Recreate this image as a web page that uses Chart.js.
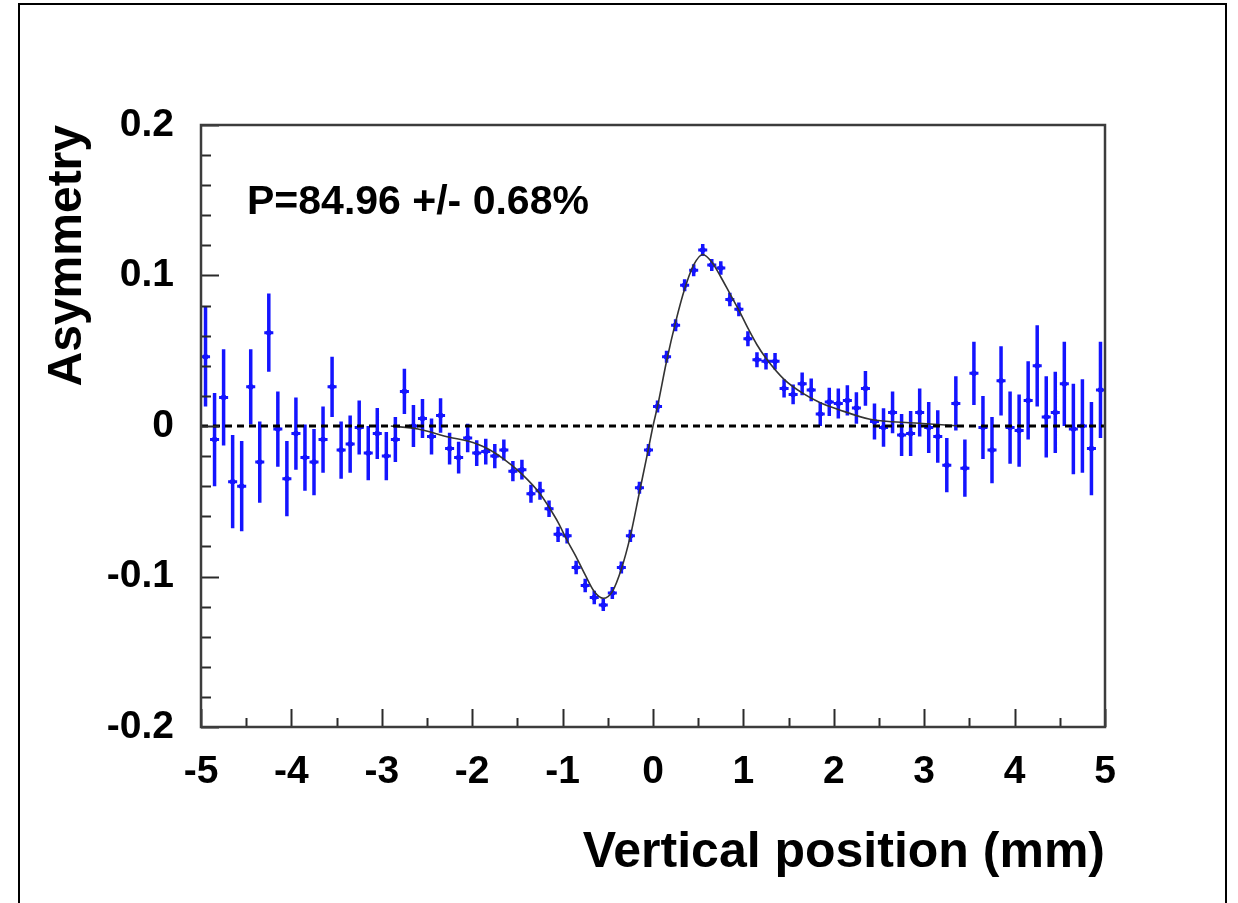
<!DOCTYPE html>
<html><head><meta charset="utf-8">
<script src="https://cdn.jsdelivr.net/npm/chart.js@4.4.1/dist/chart.umd.min.js"></script>
<style>html,body{margin:0;padding:0;background:#fff;}canvas{display:block;}</style>
</head><body>
<canvas id="c" width="1238" height="903"></canvas>
<script>
const binCenters = [
 -4.95,-4.85,-4.75,-4.65,-4.55,-4.45,-4.35,-4.25,-4.15,-4.05,
 -3.95,-3.85,-3.75,-3.65,-3.55,-3.45,-3.35,-3.25,-3.15,-3.05,
 -2.95,-2.85,-2.75,-2.65,-2.55,-2.45,-2.35,-2.25,-2.15,-2.05,
 -1.95,-1.85,-1.75,-1.65,-1.55,-1.45,-1.35,-1.25,-1.15,-1.05,
 -0.95,-0.85,-0.75,-0.65,-0.55,-0.45,-0.35,-0.25,-0.15,-0.05,
 0.05,0.15,0.25,0.35,0.45,0.55,0.65,0.75,0.85,0.95,
 1.05,1.15,1.25,1.35,1.45,1.55,1.65,1.75,1.85,1.95,
 2.05,2.15,2.25,2.35,2.45,2.55,2.65,2.75,2.85,2.95,
 3.05,3.15,3.25,3.35,3.45,3.55,3.65,3.75,3.85,3.95,
 4.05,4.15,4.25,4.35,4.45,4.55,4.65,4.75,4.85,4.95];
const asymmetry = [
 0.046,-0.009,0.019,-0.037,-0.040,0.026,-0.024,0.062,-0.002,-0.035,
 -0.005,-0.021,-0.024,-0.009,0.026,-0.016,-0.012,-0.001,-0.018,-0.005,
 -0.020,-0.009,0.023,0.000,0.005,-0.007,0.007,-0.015,-0.021,-0.008,
 -0.018,-0.017,-0.020,-0.016,-0.030,-0.029,-0.045,-0.043,-0.055,-0.072,
 -0.073,-0.094,-0.106,-0.114,-0.119,-0.111,-0.094,-0.073,-0.041,-0.016,
 0.013,0.046,0.067,0.0935,0.1035,0.117,0.107,0.105,0.084,0.0775,
 0.058,0.044,0.043,0.043,0.025,0.021,0.028,0.024,0.008,0.016,
 0.015,0.017,0.012,0.025,0.003,-0.001,0.009,-0.006,-0.005,0.009,
 -0.001,-0.007,-0.026,0.015,-0.028,0.035,-0.001,-0.016,0.030,-0.001,
 -0.003,0.017,0.040,0.006,0.009,0.028,-0.002,0.000,-0.015,0.024];
const asymErr = [
 0.033,0.031,0.032,0.031,0.030,0.025,0.027,0.026,0.025,0.025,
 0.024,0.022,0.022,0.022,0.020,0.019,0.019,0.018,0.018,0.017,
 0.016,0.015,0.015,0.014,0.013,0.012,0.0115,0.0105,0.0105,0.0095,
 0.0085,0.0085,0.008,0.007,0.0067,0.0065,0.006,0.006,0.0055,0.005,
 0.005,0.0045,0.0045,0.0045,0.004,0.004,0.004,0.004,0.004,0.004,
 0.004,0.004,0.004,0.004,0.004,0.004,0.004,0.0045,0.0045,0.0045,
 0.005,0.005,0.0055,0.0055,0.006,0.0065,0.0075,0.0075,0.008,0.0094,
 0.010,0.010,0.0105,0.0116,0.012,0.0128,0.0139,0.014,0.015,0.016,
 0.017,0.0174,0.018,0.018,0.019,0.021,0.021,0.022,0.023,0.024,
 0.024,0.026,0.027,0.027,0.027,0.028,0.030,0.031,0.031,0.032];
const binHalfWidth = 0.05;
const fitX = [-2.9,-2.6,-2.25,-2.05,-1.85,-1.65,-1.45,-1.25,-1.15,-1.05,-0.95,-0.85,-0.75,-0.65,-0.55,-0.45,-0.35,-0.25,-0.15,-0.05,0.0,
  0.05,0.15,0.25,0.35,0.45,0.55,0.65,0.75,0.85,0.95,1.05,1.15,1.25,1.45,1.65,1.85,2.05,2.4,2.9,3.4];
const fitY = [0.0,-0.002,-0.0075,-0.010,-0.0145,-0.022,-0.032,-0.045,-0.054,-0.064,-0.076,-0.087,-0.099,-0.110,-0.1145,-0.110,-0.095,-0.073,-0.044,-0.015,0.0,
  0.013,0.043,0.069,0.091,0.107,0.114,0.109,0.099,0.088,0.077,0.065,0.054,0.045,0.031,0.022,0.0155,0.011,0.0045,0.002,0.0];
const xMajorTicks = [-5,-4,-3,-2,-1,0,1,2,3,4,5];
const yMajorTicks = [-0.2,-0.1,0,0.1,0.2];
const xTitle = 'Vertical position (mm)';
const yTitle = 'Asymmetry';
const polText = 'P=84.96 +/- 0.68%';

const FONT = "'Liberation Sans', Arial, Helvetica, sans-serif";
const BLUE = '#1414ff';

const vBars = [], hBars = [], centers = [];
binCenters.forEach((x, i) => {
  const y = asymmetry[i], e = asymErr[i];
  vBars.push({x, y: y - e}, {x, y: y + e}, {x, y: null});
  hBars.push({x: x - binHalfWidth, y}, {x: x + binHalfWidth, y}, {x: x + binHalfWidth, y: null});
  centers.push({x, y});
});
const fitData = fitX.map((x, i) => ({x, y: fitY[i]}));
const zeroLine = [{x: xMajorTicks[0], y: 0}, {x: xMajorTicks[xMajorTicks.length - 1], y: 0}];

const near = (v, arr) => arr.find(t => Math.abs(v - t) < 1e-6);

const framePlugin = {
  id: 'frame',
  afterDraw(chart) {
    const {ctx, chartArea: a, scales: {x, y}} = chart;
    ctx.save();
    ctx.strokeStyle = '#2a2a2a';
    ctx.lineWidth = 2;
    x.ticks.forEach(t => {
      const px = Math.round(x.getPixelForValue(t.value)) + 0.5;
      const len = near(t.value, xMajorTicks) !== undefined ? 18 : 9;
      ctx.beginPath(); ctx.moveTo(px, a.bottom); ctx.lineTo(px, a.bottom - len); ctx.stroke();
    });
    y.ticks.forEach(t => {
      const py = Math.round(y.getPixelForValue(t.value)) + 0.5;
      const len = near(t.value, yMajorTicks) !== undefined ? 18 : 10;
      ctx.beginPath(); ctx.moveTo(a.left, py); ctx.lineTo(a.left + len, py); ctx.stroke();
    });
    ctx.strokeStyle = '#3c3c3c';
    ctx.lineWidth = 2.5;
    ctx.strokeRect(a.left, a.top, a.right - a.left, a.bottom - a.top);
    ctx.strokeStyle = '#000';
    ctx.lineWidth = 2;
    ctx.strokeRect(19, 4, 1207, 1100);
    ctx.fillStyle = '#000';
    ctx.font = 'bold 41px ' + FONT;
    ctx.textAlign = 'left';
    ctx.textBaseline = 'alphabetic';
    ctx.fillText(polText, a.left + 46, a.top + 89);
    ctx.restore();
  }
};

new Chart(document.getElementById('c'), {
  type: 'scatter',
  data: {
    datasets: [
      {label: 'zero', data: zeroLine, showLine: true, borderColor: '#000', borderWidth: 3, borderDash: [7, 5], pointRadius: 0, order: 0},
      {label: 'fit', data: fitData, showLine: true, borderColor: '#333', borderWidth: 1.6, pointRadius: 0, cubicInterpolationMode: 'monotone', order: 1},
      {label: 'vErr', data: vBars, showLine: true, spanGaps: false, borderColor: BLUE, borderWidth: 3.5, pointRadius: 0, order: 3},
      {label: 'hErr', data: hBars, showLine: true, spanGaps: false, borderColor: BLUE, borderWidth: 3, pointRadius: 0, order: 3},
      {label: 'points', data: centers, showLine: false, backgroundColor: BLUE, borderColor: BLUE, pointRadius: 2.5, order: 2}
    ]
  },
  options: {
    responsive: false,
    animation: false,
    layout: {padding: {left: 0, right: 133, top: 125, bottom: 0}},
    plugins: {legend: {display: false}, tooltip: {enabled: false}},
    scales: {
      x: {
        type: 'linear', min: -5, max: 5,
        grid: {display: false}, border: {display: false},
        ticks: {
          stepSize: 0.5, autoSkip: false, maxRotation: 0, minRotation: 0, padding: 14, color: '#000',
          font: {family: FONT, size: 39, weight: 'bold'},
          callback: v => { const m = near(v, xMajorTicks); return m !== undefined ? String(m) : ''; }
        },
        title: {display: true, text: xTitle, align: 'end', color: '#000',
          font: {family: FONT, size: 50, weight: 'bold'}, padding: {top: 0, bottom: 20}},
        afterFit: s => { s.height = 176; }
      },
      y: {
        type: 'linear', min: -0.2, max: 0.2,
        grid: {display: false}, border: {display: false},
        ticks: {
          stepSize: 0.02, autoSkip: false, padding: 19, color: '#000',
          font: {family: FONT, size: 39, weight: 'bold'},
          callback: v => { const m = near(v, yMajorTicks); return m !== undefined ? String(m) : ''; }
        },
        title: {display: true, text: yTitle, align: 'end', color: '#000',
          font: {family: FONT, size: 48, weight: 'bold'}, padding: {top: 39, bottom: 0}},
        afterFit: s => { s.width = 201; }
      }
    }
  },
  plugins: [framePlugin]
});
</script>
</body></html>
